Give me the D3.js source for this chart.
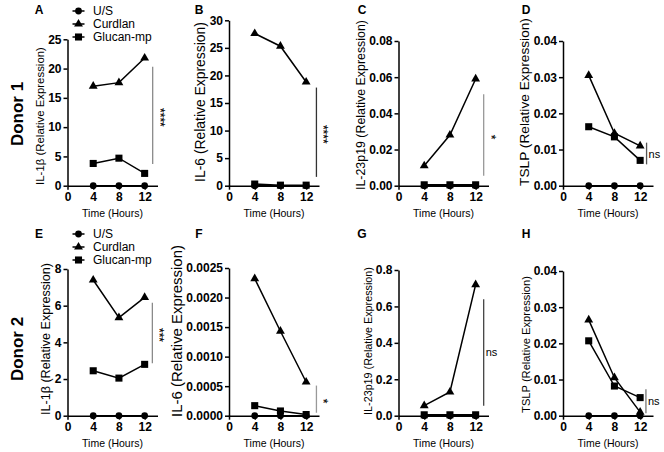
<!DOCTYPE html>
<html>
<head>
<meta charset="utf-8">
<script src="https://cdn.jsdelivr.net/npm/d3@7"></script>
<style>
body { margin: 0; background: #fff; }
svg { font-family: 'Liberation Sans', Arial, sans-serif; }
.axis path, .axis line { stroke: #000; stroke-width: 1.5px; }
.axis text { font-weight: bold; font-size: 12px; fill: #000; }
.series { fill: none; stroke: #000; stroke-width: 1.5px; }
</style>
</head>
<body>
<svg id="fig" width="664" height="452"></svg>
<script>
// time points (hours) and series
var times = [4, 8, 12]
var xTicks = [0, 4, 8, 12]
var seriesNames = ['U/S', 'Curdlan', 'Glucan-mp']
var donors = ['Donor 1', 'Donor 2']
var panelLetters = [['A', 'B', 'C', 'D'], ['E', 'F', 'G', 'H']]
var cytokines = ['IL-1β', 'IL-6', 'IL-23p19', 'TSLP']

// values per panel: [IL-1β, IL-6, IL-23p19, TSLP]
var usDonor1 = [[0, 0, 0], [0, 0, 0], [0, 0, 0], [0, 0, 0]]
var curdlanDonor1 = [[17.0, 17.6, 21.8], [27.6, 25.3, 18.8], [0.011, 0.028, 0.059], [0.0305, 0.0145, 0.011]]
var glucanDonor1 = [[3.8, 4.7, 2.1], [0.3, 0.1, 0.1], [0.0005, 0.0005, 0.0005], [0.0163, 0.0135, 0.007]]

var usDonor2 = [[0, 0, 0], [0, 0, 0], [0, 0, 0], [0, 0, 0]]
var curdlanDonor2 = [[7.4, 5.35, 6.45], [0.00232, 0.00143, 0.00057], [0.055, 0.13, 0.72], [0.0265, 0.0105, 0.001]]
var glucanDonor2 = [[2.45, 2.05, 2.8], [0.00017, 0.00008, 0.00002], [0.005, 0.005, 0.005], [0.0207, 0.0082, 0.005]]

// y axis ranges
var yMaxDonor1 = [25, 30, 0.08, 0.04]
var yStepDonor1 = [5, 5, 0.02, 0.01]
var yMaxDonor2 = [8, 0.0025, 0.8, 0.04]
var yStepDonor2 = [2, 0.0005, 0.2, 0.01]

// significance brackets (label, span in data units)
var sigDonor1 = ['****', '****', '*', 'ns']
var sigSpanDonor1 = [[3.7, 20.3], [1.6, 17.8], [0.0055, 0.0506], [0.0059, 0.0119]]
var sigDonor2 = ['***', '*', 'ns', 'ns']
var sigSpanDonor2 = [[2.86, 6.16], [0.00005, 0.00051], [0.055, 0.64], [0.0007, 0.0073]]

var panelData = [
    { us: usDonor1, curdlan: curdlanDonor1, glucan: glucanDonor1, yMax: yMaxDonor1, yStep: yStepDonor1, sig: sigDonor1, sigSpan: sigSpanDonor1 },
    { us: usDonor2, curdlan: curdlanDonor2, glucan: glucanDonor2, yMax: yMaxDonor2, yStep: yStepDonor2, sig: sigDonor2, sigSpan: sigSpanDonor2 }
]

var layout = {
    colX: [67.5, 229, 398.5, 563],
    plotWidth: 90,
    xDomain: [0, 14],
    rowBottom: [185.7, 415.7],
    rowTop: [[39.3, 20.3, 41, 41], [269, 268, 270, 271]],
    labelSpan: [[[47, 185], [22, 182], [20, 190], [18, 186]], [[263, 415], [245, 417], [267, 415], [276, 413]]],
    sigHour: [[13.25, 13.6, 13.25, 13], [13.2, 13.6, 13.25, 12.9]],
    sigColor: [['#8a8a8a', '#333', '#999', '#555'], ['#8a8a8a', '#999', '#444', '#777']],
    letterX: [39, 199, 362, 526],
    letterY: [10, 234],
    donorX: 17,
    donorY: [114, 349],
    legend: { x: 78.5, y: [11, 234], dy: 13, textX: 93 }
}

var symbols = [
    d3.symbol().type(d3.symbolCircle).size(36),
    d3.symbol().type(d3.symbolTriangle).size(34),
    d3.symbol().type(d3.symbolSquare).size(50)
]

var svg = d3.select('#fig')

function drawPanel(row, col) {
    var pd = panelData[row]
    var x0 = layout.colX[col]
    var yMax = pd.yMax[col], step = pd.yStep[col]
    var decimals = Math.max(0, -Math.floor(Math.log10(step) + 1e-9))

    var xScale = d3.scaleLinear().domain(layout.xDomain).range([x0, x0 + layout.plotWidth])
    var yScale = d3.scaleLinear().domain([0, yMax]).range([layout.rowBottom[row], layout.rowTop[row][col]])

    var panel = svg.append('g').attr('class', 'panel')

    var yAxisEl = panel.append('g')
        .attr('class', 'axis')
        .attr('transform', 'translate(' + x0 + ', 0)')
        .call(d3.axisLeft(yScale)
            .tickValues(d3.range(0, yMax + step / 2, step))
            .tickSize(4).tickSizeOuter(0).tickPadding(2)
            .tickFormat(d3.format('.' + decimals + 'f')))
        .attr('font-family', null).attr('font-size', null)

    panel.append('g')
        .attr('class', 'axis')
        .attr('transform', 'translate(0, ' + yScale(0) + ')')
        .call(d3.axisBottom(xScale).tickValues(xTicks).tickSize(4).tickSizeOuter(0).tickPadding(3))
        .attr('font-family', null).attr('font-size', null)

    panel.append('text')
        .attr('x', xScale(7))
        .attr('y', yScale(0) + 27)
        .attr('text-anchor', 'middle')
        .attr('dominant-baseline', 'central')
        .attr('font-size', '10.5px')
        .text('Time (Hours)')

    // y label, sized to the span it covers in the figure
    var span = layout.labelSpan[row][col]
    var yLabel = panel.append('text')
        .attr('text-anchor', 'middle')
        .attr('font-size', '11px')
        .text(cytokines[col] + ' (Relative Expression)')
    var fs = 11 * (span[1] - span[0]) / yLabel.node().getComputedTextLength()
    var tickLeft = x0 + yAxisEl.node().getBBox().x
    var lx = tickLeft - 3 - fs * 0.45
    yLabel.attr('font-size', fs + 'px')
        .attr('dominant-baseline', 'central')
        .attr('transform', 'translate(' + lx + ', ' + (span[0] + span[1]) / 2 + ') rotate(-90)')

    var line = d3.line()
        .x(function (d, i) { return xScale(times[i]) })
        .y(function (d) { return yScale(d) })

    var seriesValues = [pd.us[col], pd.curdlan[col], pd.glucan[col]]
    seriesValues.forEach(function (vals, s) {
        panel.append('path').attr('class', 'series').attr('d', line(vals))
        panel.selectAll(null)
            .data(vals)
            .enter()
            .append('path')
            .attr('d', symbols[s])
            .attr('transform', function (d, i) { return 'translate(' + xScale(times[i]) + ', ' + yScale(d) + ')' })
            .attr('fill', '#000')
    })

    // significance bracket
    var sx = xScale(layout.sigHour[row][col])
    var sp = pd.sigSpan[col]
    panel.append('line')
        .attr('x1', sx).attr('x2', sx)
        .attr('y1', yScale(sp[0])).attr('y2', yScale(sp[1]))
        .attr('stroke', layout.sigColor[row][col])
        .attr('stroke-width', 1.3)
    var my = (yScale(sp[0]) + yScale(sp[1])) / 2
    if (pd.sig[col] === 'ns') {
        panel.append('text')
            .attr('x', sx + 2).attr('y', my)
            .attr('dominant-baseline', 'central')
            .attr('font-size', '11px')
            .attr('fill', '#000')
            .text('ns')
    } else {
        panel.append('text')
            .attr('text-anchor', 'middle')
            .attr('dominant-baseline', 'central')
            .attr('font-size', '12px')
            .attr('fill', '#000')
            .attr('stroke', '#000')
            .attr('stroke-width', 0.15) // stroked text renders without colour fringes
            .attr('transform', 'translate(' + (sx + 7) + ', ' + (my + 2) + ') rotate(90)')
            .text(pd.sig[col])
    }

    panel.append('text')
        .attr('x', layout.letterX[col]).attr('y', layout.letterY[row])
        .attr('text-anchor', 'middle')
        .attr('dominant-baseline', 'central')
        .attr('font-weight', 'bold')
        .attr('font-size', '12px')
        .text(panelLetters[row][col])

    if (col === 0) {
        var legend = panel.append('g')
        var items = legend.selectAll('g')
            .data(seriesNames)
            .enter()
            .append('g')
            .attr('transform', function (_, i) { return 'translate(' + layout.legend.x + ', ' + (layout.legend.y[row] + i * layout.legend.dy) + ')' })
        items.append('line')
            .attr('x1', -6).attr('x2', 6)
            .attr('stroke', '#000').attr('stroke-width', 1.5)
        items.append('path')
            .attr('d', function (_, i) { return symbols[i]() })
            .attr('fill', '#000')
        items.append('text')
            .attr('x', layout.legend.textX - layout.legend.x)
            .attr('dominant-baseline', 'central')
            .attr('font-size', '12px')
            .text(function (d) { return d })

        svg.append('text')
            .attr('text-anchor', 'middle')
            .attr('dominant-baseline', 'central')
            .attr('font-weight', 'bold')
            .attr('font-size', '17px')
            .attr('transform', 'translate(' + layout.donorX + ', ' + layout.donorY[row] + ') rotate(-90)')
            .text(donors[row])
    }
}

for (var r = 0; r < 2; r++) {
    for (var c = 0; c < 4; c++) drawPanel(r, c)
}
</script>
</body>
</html>
